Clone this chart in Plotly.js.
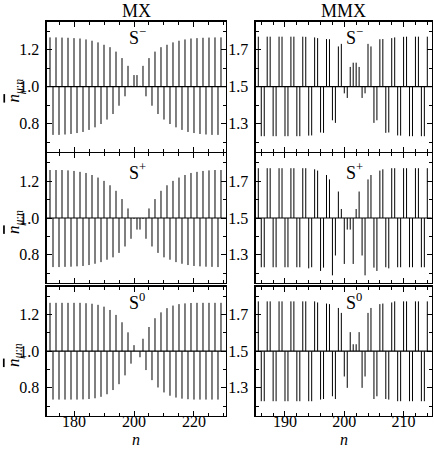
<!DOCTYPE html>
<html>
<head>
<meta charset="utf-8">
<script src="https://cdn.plot.ly/plotly-3.0.1.min.js"></script>
<style>
  body { margin: 0; background: #fff; }
  #chart { width: 435px; height: 450px; }
</style>
</head>
<body>
<div id="chart"></div>
<script>
// site index n for the MX chain and the MMX chain (two metal sites per unit)
const mxN = [172, 173, 174, 175, 176, 177, 178, 179, 180, 181, 182, 183, 184, 185, 186, 187, 188, 189, 190, 191,
    192, 193, 194, 195, 196, 197, 198, 199, 200, 201, 202, 203, 204, 205, 206, 207, 208, 209, 210, 211,
    212, 213, 214, 215, 216, 217, 218, 219, 220, 221, 222, 223, 224, 225, 226, 227, 228, 229];
const mmxN = [185.5, 186, 186.5, 187, 187.5, 188, 188.5, 189, 189.5, 190, 190.5, 191, 191.5, 192, 192.5, 193,
    193.5, 194, 194.5, 195, 195.5, 196, 196.5, 197, 197.5, 198, 198.5, 199, 199.5, 200, 200.5, 201, 201.5,
    202, 202.5, 203, 203.5, 204, 204.5, 205, 205.5, 206, 206.5, 207, 207.5, 208, 208.5, 209, 209.5, 210,
    210.5, 211, 211.5, 212, 212.5, 213, 213.5, 214];

// MX: mean occupation per site
const mxSminus = [1.267, 0.739, 1.267, 0.739, 1.266, 0.741, 1.265, 0.744, 1.263, 0.749, 1.261, 0.755, 1.256, 0.766,
    1.249, 0.780, 1.240, 0.798, 1.227, 0.822, 1.214, 0.852, 1.190, 0.897, 1.155, 0.948, 1.113, 1.005, 1.063,
    1.063, 1.005, 1.113, 0.948, 1.155, 0.897, 1.190, 0.852, 1.214, 0.822, 1.227, 0.798, 1.240, 0.780, 1.249,
    0.766, 1.256, 0.755, 1.261, 0.749, 1.263, 0.744, 1.265, 0.741, 1.266, 0.739, 1.267, 0.739, 1.267];
const mxSplus = [1.261, 0.733, 1.261, 0.733, 1.261, 0.734, 1.259, 0.735, 1.256, 0.737, 1.251, 0.739, 1.245, 0.744,
    1.234, 0.751, 1.220, 0.760, 1.202, 0.773, 1.178, 0.786, 1.148, 0.810, 1.103, 0.845, 1.052, 0.887, 0.995,
    0.937, 0.937, 0.995, 0.887, 1.052, 0.845, 1.103, 0.810, 1.148, 0.786, 1.178, 0.773, 1.202, 0.760, 1.220,
    0.751, 1.234, 0.744, 1.245, 0.739, 1.251, 0.737, 1.256, 0.735, 1.259, 0.734, 1.261, 0.733, 1.261];
const mxSzero = [1.264, 0.736, 1.264, 0.736, 1.264, 0.736, 1.264, 0.736, 1.264, 0.736, 1.264, 0.737, 1.262, 0.739,
    1.259, 0.743, 1.253, 0.751, 1.243, 0.765, 1.225, 0.788, 1.198, 0.820, 1.158, 0.868, 1.103, 0.932, 1.033,
    1.000, 0.967, 1.068, 0.897, 1.132, 0.842, 1.180, 0.802, 1.212, 0.775, 1.235, 0.757, 1.249, 0.747, 1.257,
    0.741, 1.261, 0.738, 1.263, 0.736, 1.264, 0.736, 1.264, 0.736, 1.264, 0.736, 1.264, 0.736, 1.264];

// MMX: mean occupation per metal site
const mmxSminus = [1.771, 1.232, 1.232, 1.771, 1.771, 1.232, 1.232, 1.771, 1.771, 1.232, 1.232, 1.771, 1.771, 1.232,
    1.232, 1.771, 1.770, 1.235, 1.236, 1.767, 1.763, 1.252, 1.250, 1.758, 1.757, 1.318, 1.304, 1.718, 1.732,
    1.464, 1.439, 1.607, 1.630, 1.630, 1.607, 1.439, 1.464, 1.732, 1.718, 1.304, 1.318, 1.757, 1.758, 1.250,
    1.252, 1.763, 1.767, 1.236, 1.235, 1.770, 1.771, 1.232, 1.232, 1.771, 1.771, 1.232, 1.232, 1.771];
const mmxSplus = [1.771, 1.232, 1.232, 1.771, 1.771, 1.232, 1.232, 1.771, 1.771, 1.232, 1.232, 1.771, 1.771, 1.232,
    1.232, 1.771, 1.771, 1.226, 1.232, 1.765, 1.758, 1.212, 1.230, 1.734, 1.710, 1.188, 1.296, 1.644, 1.549,
    1.250, 1.437, 1.437, 1.250, 1.549, 1.644, 1.296, 1.188, 1.710, 1.734, 1.230, 1.212, 1.758, 1.765, 1.232,
    1.226, 1.771, 1.771, 1.232, 1.232, 1.771, 1.771, 1.232, 1.232, 1.771, 1.771, 1.232, 1.232, 1.771];
const mmxSzero = [1.772, 1.227, 1.227, 1.772, 1.772, 1.227, 1.227, 1.772, 1.772, 1.227, 1.227, 1.772, 1.772, 1.227,
    1.227, 1.772, 1.772, 1.227, 1.227, 1.772, 1.766, 1.236, 1.239, 1.760, 1.757, 1.254, 1.239, 1.736, 1.709,
    1.362, 1.300, 1.604, 1.538, 1.538, 1.604, 1.300, 1.362, 1.709, 1.736, 1.239, 1.254, 1.757, 1.760, 1.239,
    1.236, 1.766, 1.772, 1.227, 1.227, 1.772, 1.772, 1.227, 1.227, 1.772, 1.772, 1.227, 1.227, 1.772];

const columnTitles = ['MX', 'MMX'];
const panelLabels = ['S<sup>\u2212</sup>', 'S<sup>+</sup>', 'S<sup>0</sup>'];
const baseLevels = [1.0, 1.5];

const FONT = 'Liberation Serif, Times New Roman, serif';

function stemTrace(xs, ys, base, idx) {
    const x = [];
    const y = [];
    xs.forEach((n, i) => {
        x.push(n, n, null);
        y.push(base, ys[i], null);
    });
    return {
        type: 'scatter',
        mode: 'lines',
        x, y,
        xaxis: 'x' + (idx === 1 ? '' : idx),
        yaxis: 'y' + (idx === 1 ? '' : idx),
        line: { color: '#000', width: 1 },
        hoverinfo: 'skip',
        showlegend: false,
    };
}

const panels = [
    { n: mxN, v: mxSminus, col: 0, row: 0 },
    { n: mmxN, v: mmxSminus, col: 1, row: 0 },
    { n: mxN, v: mxSplus, col: 0, row: 1 },
    { n: mmxN, v: mmxSplus, col: 1, row: 1 },
    { n: mxN, v: mxSzero, col: 0, row: 2 },
    { n: mmxN, v: mmxSzero, col: 1, row: 2 },
];

const xDomains = [[46.7 / 435, 226 / 435], [255.7 / 435, 431.7 / 435]];
const yDomains = [[1 - 151.7 / 450, 1 - 21.7 / 450], [1 - 282.7 / 450, 1 - 153.3 / 450], [1 - 415.7 / 450, 1 - 286.7 / 450]];
const xRanges = [[170.9, 230.67], [185.06, 214.74]];
const yRanges = [[0.648, 1.352], [1.148, 1.852]];

const traces = [];
const layout = {
    width: 435,
    height: 450,
    margin: { l: 0, r: 0, t: 0, b: 0 },
    paper_bgcolor: '#fff',
    plot_bgcolor: '#fff',
    font: { family: FONT, size: 16, color: '#000' },
    showlegend: false,
    shapes: [],
    annotations: [],
};

panels.forEach((p, i) => {
    const idx = i + 1;
    const sfx = idx === 1 ? '' : String(idx);
    const base = baseLevels[p.col];
    traces.push(stemTrace(p.n, p.v, base, idx));

    const common = {
        showline: true,
        linecolor: '#000',
        linewidth: 1.3,
        mirror: 'allticks',
        ticks: 'inside',
        tickcolor: '#000',
        ticklen: 5,
        tickwidth: 1,
        showgrid: false,
        zeroline: false,
        fixedrange: true,
        tickfont: { family: FONT, size: 16, color: '#000' },
    };
    layout['xaxis' + sfx] = {
        ...common,
        domain: xDomains[p.col],
        range: xRanges[p.col],
        anchor: 'y' + sfx,
        tickmode: 'linear',
        tick0: 0,
        dtick: p.col === 0 ? 20 : 10,
        minor: { dtick: p.col === 0 ? 5 : 2, ticks: 'inside', ticklen: 3, tickcolor: '#000', showgrid: false },
        showticklabels: p.row === 2,
        ticklabelstandoff: -9,
    };
    layout['yaxis' + sfx] = {
        ...common,
        domain: yDomains[p.row],
        range: yRanges[p.col],
        anchor: 'x' + sfx,
        tickmode: 'linear',
        tick0: p.col === 0 ? 0 : 0.1,
        dtick: 0.2,
        tickformat: '.1f',
        minor: { dtick: 0.1, ticks: 'inside', ticklen: 3, tickcolor: '#000', showgrid: false },
        ticklabelstandoff: 3,
    };

    layout.shapes.push({
        type: 'line',
        xref: 'x' + sfx + ' domain', x0: 0, x1: 1,
        yref: 'y' + sfx, y0: base, y1: base,
        line: { color: '#000', width: 1.2 },
    });

    layout.annotations.push({
        xref: 'x' + sfx + ' domain', yref: 'y' + sfx + ' domain',
        x: p.col === 0 ? 0.506 : 0.56, y: [0.885, 0.86, 0.885][p.row],
        xanchor: 'center', yanchor: 'middle',
        text: panelLabels[p.row],
        showarrow: false,
        font: { family: FONT, size: 18, color: '#000' },
    });

    if (p.col === 0) {
        layout.annotations.push({
            xref: 'paper', yref: 'y' + sfx + ' domain',
            x: 15 / 435, y: 0.47,
            xanchor: 'center', yanchor: 'middle',
            text: '<span style="text-decoration:overline"><i>n</i></span><sub><i>\u03bc</i>:<i>n</i></sub>',
            textangle: -90,
            showarrow: false,
            font: { family: FONT, size: 17, color: '#000' },
        });
    }
    if (p.row === 2) {
        layout.annotations.push({
            xref: 'x' + sfx + ' domain', yref: 'paper',
            x: 0.5, y: 1 - 439 / 450,
            xanchor: 'center', yanchor: 'middle',
            text: '<i>n</i>',
            showarrow: false,
            font: { family: FONT, size: 16, color: '#000' },
        });
    }
    if (p.row === 0) {
        layout.annotations.push({
            xref: 'x' + sfx + ' domain', yref: 'paper',
            x: 0.5, y: 1 - 11 / 450,
            xanchor: 'center', yanchor: 'middle',
            text: columnTitles[p.col],
            showarrow: false,
            font: { family: FONT, size: 18, color: '#000' },
        });
    }
});

Plotly.newPlot('chart', traces, layout, { staticPlot: true, displayModeBar: false });
</script>
</body>
</html>
